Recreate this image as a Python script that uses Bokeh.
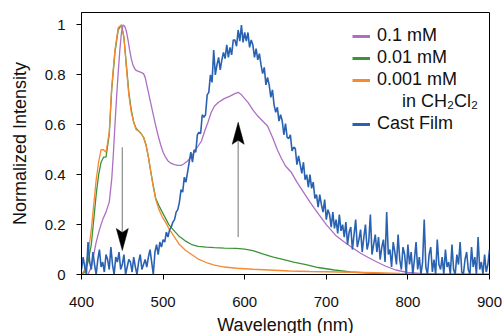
import numpy as np
from bokeh.plotting import figure
from bokeh.models import Range1d, FixedTicker, CustomJSTickFormatter, Legend, LegendItem
from bokeh.embed import file_html
from bokeh.resources import INLINE

# ---------------- data ----------------
purple_x = [400, 408, 412, 415, 418, 422, 426, 430, 434, 437, 439, 441, 443, 445, 447, 449, 451, 453,
            455, 457, 459, 461, 463, 466, 469, 473, 476, 478, 481, 484, 487, 490, 494, 497, 500, 503,
            506, 510, 514, 518, 522, 526, 530, 534, 540, 547, 551, 555, 559, 563, 568, 575, 582, 588,
            592, 596, 600, 604, 610, 616, 622, 628, 634, 640, 645, 650, 657, 664, 671, 680, 691, 700,
            712, 722, 732, 742, 752, 762, 773, 785, 800, 815, 840, 870, 900]
purple_y = [0.0, 0.0, 0.03, 0.08, 0.13, 0.18, 0.22, 0.25, 0.29, 0.38, 0.48, 0.60, 0.71, 0.81, 0.90, 0.97,
            1.0, 0.995, 0.975, 0.94, 0.90, 0.865, 0.84, 0.82, 0.815, 0.81, 0.805, 0.79, 0.745, 0.70,
            0.655, 0.61, 0.555, 0.52, 0.49, 0.47, 0.455, 0.445, 0.44, 0.437, 0.437, 0.445, 0.455, 0.47,
            0.50, 0.535, 0.575, 0.61, 0.65, 0.675, 0.69, 0.705, 0.715, 0.725, 0.73, 0.72, 0.705, 0.69,
            0.66, 0.635, 0.615, 0.595, 0.55, 0.50, 0.465, 0.435, 0.41, 0.37, 0.335, 0.29, 0.24, 0.20,
            0.155, 0.13, 0.107, 0.085, 0.067, 0.05, 0.033, 0.018, 0.008, 0.004, 0.002, 0.001, 0.0]

green_x = [400, 404, 408, 412, 415, 418, 421, 424, 427, 430, 434, 437, 441, 445, 449, 452, 455, 458,
           461, 464, 467, 470, 473, 476, 479, 482, 485, 488, 491, 495, 499, 503, 507, 511, 515, 520,
           527, 535, 543, 553, 563, 575, 590, 600, 610, 623, 635, 648, 660, 675, 690, 710, 730, 750,
           770, 800, 850, 900]
green_y = [0.0, 0.01, 0.05, 0.12, 0.22, 0.32, 0.40, 0.45, 0.47, 0.47, 0.56, 0.74, 0.89, 0.98, 1.0, 0.95,
           0.84, 0.73, 0.66, 0.61, 0.585, 0.575, 0.565, 0.55, 0.52, 0.47, 0.41, 0.355, 0.305, 0.275,
           0.25, 0.225, 0.20, 0.185, 0.17, 0.152, 0.135, 0.12, 0.113, 0.11, 0.108, 0.106, 0.105, 0.102,
           0.096, 0.082, 0.07, 0.06, 0.05, 0.04, 0.028, 0.018, 0.01, 0.006, 0.003, 0.001, 0.0, 0.0]

orange_x = [400, 404, 408, 412, 415, 418, 421, 424, 427, 430, 434, 437, 441, 445, 449, 452, 455, 458,
            461, 464, 467, 470, 473, 476, 479, 482, 485, 488, 491, 495, 499, 503, 507, 511, 515, 520,
            527, 535, 543, 553, 563, 575, 590, 610, 630, 655, 680, 700, 730, 760, 790, 820, 850, 900]
orange_y = [0.0, 0.02, 0.08, 0.18, 0.28, 0.38, 0.45, 0.50, 0.50, 0.49, 0.57, 0.75, 0.90, 0.99, 1.0, 0.95,
            0.83, 0.72, 0.65, 0.61, 0.58, 0.575, 0.565, 0.55, 0.52, 0.47, 0.41, 0.35, 0.30, 0.26, 0.23,
            0.21, 0.185, 0.165, 0.145, 0.12, 0.098, 0.08, 0.062, 0.048, 0.038, 0.03, 0.025, 0.021,
            0.018, 0.014, 0.012, 0.011, 0.009, 0.007, 0.004, 0.002, 0.001, 0.0]

film_x = list(range(400, 901, 2))
film_y = [
    # 400-480
    0.02, 0.07, 0.03, 0.0, 0.13, 0.05, 0.02, 0.09, 0.04, 0.0, 0.06, 0.10, 0.03, 0.05, 0.01, 0.08,
    0.06, 0.02, 0.11, 0.04, 0.0, 0.07, 0.05, 0.09, 0.02, 0.04, 0.08, 0.0, 0.03, 0.06, 0.05, 0.01,
    0.07, 0.03, 0.0, 0.05, 0.08, 0.02, 0.04, 0.06, 0.03,
    # 482-520
    0.07, 0.10, 0.05, 0.0, 0.09, 0.12, 0.08, 0.13, 0.11, 0.14, 0.13, 0.17, 0.15, 0.18, 0.19, 0.21,
    0.22, 0.25, 0.26, 0.29,
    # 522-560
    0.34, 0.33, 0.39, 0.37, 0.41, 0.45, 0.49, 0.45, 0.50, 0.49, 0.56, 0.57, 0.565, 0.64, 0.63, 0.64,
    0.72, 0.73, 0.80, 0.77,
    # 562-600
    0.90, 0.80, 0.84, 0.87, 0.82, 0.86, 0.89, 0.865, 0.92, 0.87, 0.91, 0.88, 0.94, 0.94, 0.915, 0.98,
    0.935, 1.0, 0.93, 0.97,
    # 602-640
    0.935, 0.97, 0.91, 0.94, 0.92, 0.87, 0.905, 0.86, 0.885, 0.84, 0.805, 0.83, 0.76, 0.79, 0.76, 0.71,
    0.74, 0.68, 0.65, 0.67,
    # 642-680
    0.615, 0.64, 0.615, 0.56, 0.605, 0.55, 0.545, 0.56, 0.495, 0.51, 0.505, 0.44, 0.475, 0.44, 0.405,
    0.45, 0.38, 0.40, 0.35, 0.40,
    # 682-720
    0.345, 0.37, 0.305, 0.32, 0.27, 0.32, 0.28, 0.25, 0.30, 0.22, 0.26, 0.24, 0.19, 0.25, 0.185, 0.22,
    0.165, 0.24, 0.175, 0.20,
    # 722-760
    0.15, 0.21, 0.12, 0.17, 0.19, 0.10, 0.16, 0.22, 0.11, 0.14, 0.18, 0.09, 0.15, 0.20, 0.10, 0.13,
    0.24, 0.08, 0.12, 0.16,
    # 762-800
    0.09, 0.15, 0.06, 0.11, 0.14, 0.05, 0.25, 0.08, 0.10, 0.03, 0.13, 0.09, 0.04, 0.16, 0.06, 0.02,
    0.11, 0.08, 0.0, 0.12,
    # 802-840
    0.04, 0.09, 0.0, 0.06, 0.13, 0.02, 0.07, 0.0, 0.05, 0.22, 0.03, 0.0, 0.08, 0.11, 0.01, 0.06,
    0.0, 0.14, 0.04, 0.02,
    # 842-900
    0.07, 0.0, 0.10, 0.03, 0.05, 0.0, 0.12, 0.02, 0.0, 0.08, 0.04, 0.13, 0.01, 0.0, 0.06, 0.09,
    0.02, 0.0, 0.11, 0.03, 0.07, 0.0, 0.15, 0.02, 0.05, 0.0, 0.08, 0.01, 0.04, 0.10,
]
assert len(film_x) == len(film_y)

x_ticks = [400, 500, 600, 700, 800, 900]
y_ticks = [0, 0.2, 0.4, 0.6, 0.8, 1.0]

# arrows: (x, y_start, y_tip)
arrow_x = [450, 592]
arrow_y0 = [0.51, 0.15]
arrow_y1 = [0.096, 0.61]

labels = ["0.1 mM", "0.01 mM", "0.001 mM",
          "\u00a0\u00a0\u00a0\u00a0\u00a0in CH\u2082Cl\u2082", "Cast Film"]

# ---------------- styling ----------------
C_PURPLE = "#ad6fc4"
C_GREEN = "#3c9437"
C_ORANGE = "#f68a33"
C_BLUE = "#2a62b2"
FONT = "Liberation Sans"

X0, X1, Y0, Y1 = 400, 900, 0, 1.05
FW, FH = 408, 262

p = figure(frame_width=FW, frame_height=FH,
           x_range=Range1d(X0, X1), y_range=Range1d(Y0, Y1),
           output_backend="svg", toolbar_location=None,
           min_border_left=81, min_border_top=12, min_border_right=13, min_border_bottom=59)
p.background_fill_color = "white"
p.border_fill_color = "white"
p.outline_line_color = "black"
p.outline_line_width = 1
p.grid.visible = False

p.line(green_x, green_y, line_color=C_GREEN, line_width=1.3)
p.line(orange_x, orange_y, line_color=C_ORANGE, line_width=1.3)
p.line(purple_x, purple_y, line_color=C_PURPLE, line_width=1.3)
p.line(film_x, film_y, line_color=C_BLUE, line_width=1.6)

# arrows
sx = FW / (X1 - X0)
sy = FH / (Y1 - Y0)
head_len, head_half, notch = 22 / sy, 6 / sx, 18 / sy
xs, ys = [], []
for ax_, a0, a1 in zip(arrow_x, arrow_y0, arrow_y1):
    d = 1 if a1 > a0 else -1
    p.segment(x0=[ax_], y0=[a0], x1=[ax_], y1=[a1 - d * notch], line_color="#8c8c8c", line_width=1.2)
    xs.append([ax_, ax_ + head_half, ax_, ax_ - head_half])
    ys.append([a1, a1 - d * head_len, a1 - d * notch, a1 - d * head_len])
p.patches(xs, ys, fill_color="black", line_color="black", line_width=0.5)

# axes
for ax in (p.xaxis[0], p.yaxis[0]):
    ax.axis_line_color = "black"
    ax.major_tick_line_color = "black"
    ax.major_tick_out = 5
    ax.major_tick_in = 0
    ax.minor_tick_line_color = None
    ax.major_label_text_font = FONT
    ax.major_label_text_font_size = "15px"
    ax.major_label_text_color = "#111111"
    ax.axis_label_text_font = FONT
    ax.axis_label_text_font_size = "18px"
    ax.axis_label_text_font_style = "normal"
    ax.axis_label_text_color = "#111111"

p.xaxis[0].ticker = FixedTicker(ticks=x_ticks)
p.yaxis[0].ticker = FixedTicker(ticks=y_ticks)
p.yaxis[0].formatter = CustomJSTickFormatter(code="return String(Math.round(tick*10)/10);")
p.xaxis[0].axis_label = "Wavelength (nm)"
p.yaxis[0].axis_label = "Normalized Intensity"
p.xaxis[0].major_label_standoff = 17
p.xaxis[0].axis_label_standoff = 5
p.yaxis[0].major_label_standoff = 11
p.yaxis[0].axis_label_standoff = 12

# legend with thicker glyphs (single off-range point renderers draw nothing in the plot)
leg_colors = [C_PURPLE, C_GREEN, C_ORANGE, C_ORANGE, C_BLUE]
leg_alpha = [1, 1, 1, 0, 1]
items = []
for lab, col, al in zip(labels, leg_colors, leg_alpha):
    r = p.line(x=[X0 - 50], y=[Y0 - 1], line_color=col, line_width=3, line_alpha=al)
    items.append(LegendItem(label=lab, renderers=[r]))
legend = Legend(items=items, location=(271, 140), glyph_width=18, glyph_height=20,
                label_standoff=7, label_height=20, spacing=1, padding=0, margin=0,
                label_text_font=FONT, label_text_font_size="18px", label_text_color="#111111",
                border_line_alpha=0, background_fill_alpha=0)
p.add_layout(legend, "center")

open("out.html", "w").write(file_html(p, INLINE))
